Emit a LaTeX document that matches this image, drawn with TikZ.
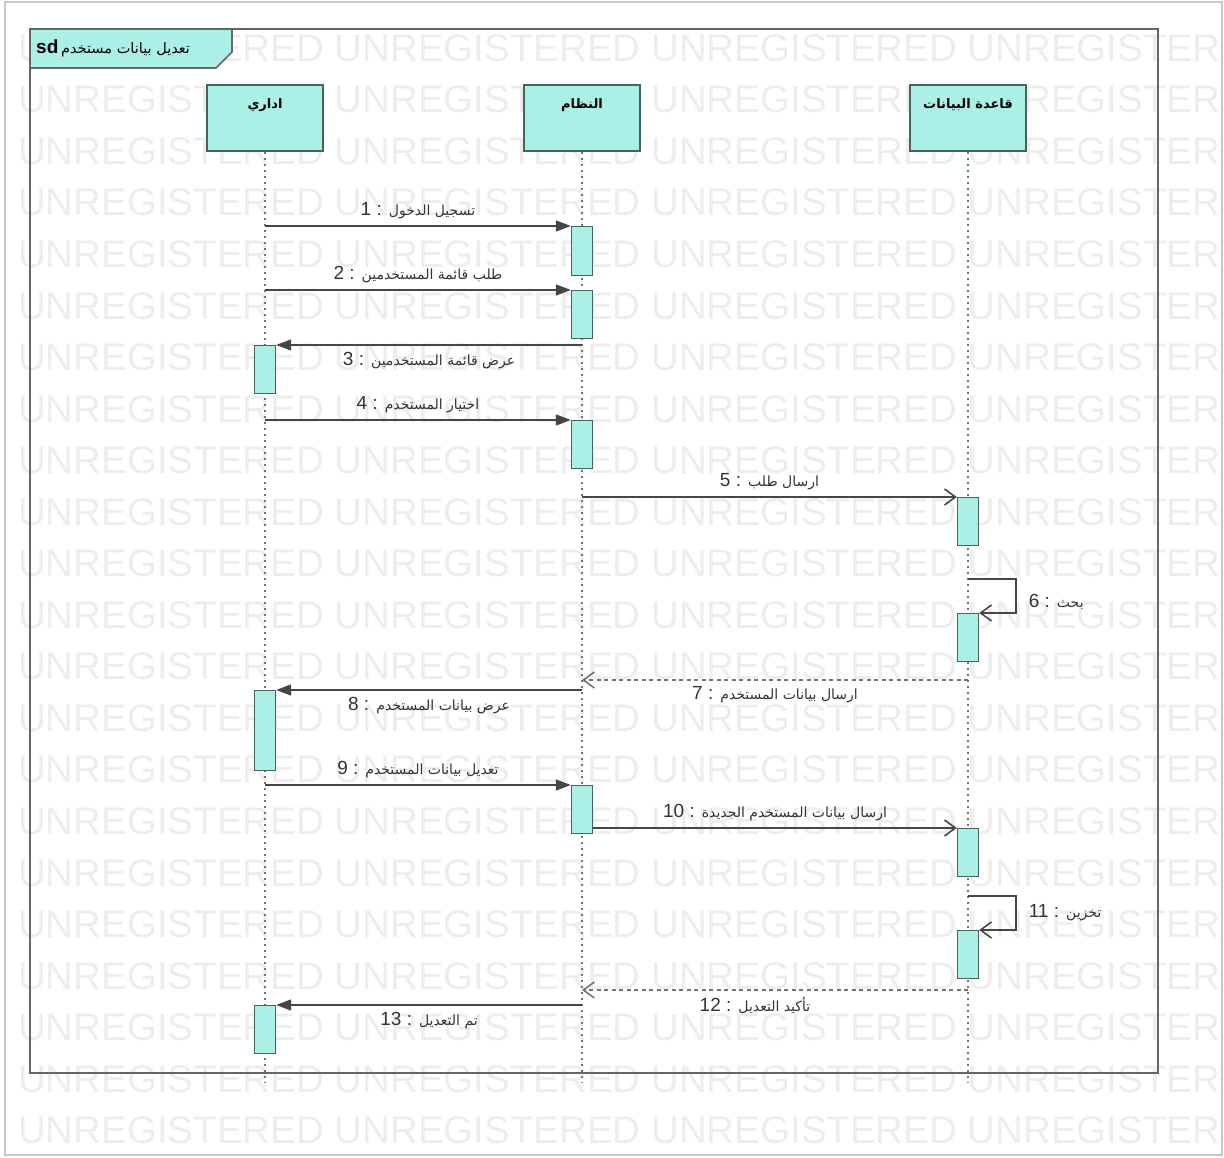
\documentclass[tikz,border=0pt]{standalone}
\usepackage{fontspec}
\setmainfont{Liberation Sans}
\newfontfamily\arabicfont[Script=Arabic]{DejaVu Sans}
\TeXXeTstate=1
\usetikzlibrary{arrows.meta,positioning}

\definecolor{umlfill}{RGB}{170,240,230}
\definecolor{umledge}{RGB}{70,100,95}
\definecolor{msgline}{RGB}{70,70,70}
\definecolor{wmark}{RGB}{239,236,236}

\newcommand{\artxt}[1]{{\arabicfont\beginR #1\endR}}
\newcommand{\msgtxt}[2]{#1 : {\arabicfont\fontsize{14}{16}\selectfont\beginR #2\endR}}

\begin{document}
\begin{tikzpicture}[
    x = 1pt, y = -1pt, % one unit per screenshot pixel
    every node/.style = {inner sep = 2pt},
    head/.style = {draw = umledge, line width = 1.6pt, fill = umlfill,
      minimum width = 116pt, text height = 18pt, text depth = 36pt,
      inner ysep = 6pt, font = \bfseries\fontsize{13}{15}\selectfont},
    act/.style = {draw = umledge, line width = 1.3pt, fill = umlfill,
      minimum width = 21pt, inner sep = 0pt, anchor = north},
    lifeline/.style = {draw = black!55, line width = 1.2pt, dash pattern = on 2pt off 4pt},
    sync/.style = {draw = msgline, line width = 1.6pt, -{Triangle[length=15pt,width=11pt]}},
    async/.style = {draw = msgline, line width = 1.6pt, -{Straight Barb[length=11pt,width=16pt]}},
    reply/.style = {async, draw = black!55, dash pattern = on 4pt off 3.5pt},
    lbl/.style = {font = \fontsize{19}{21}\selectfont, text = black!80}
    ]

    \tikzset{wmtext/.style = {text = wmark, inner sep = 0pt, anchor = west,
      font = \fontsize{38.5}{40}\selectfont}}

    \useasboundingbox (0,0) rectangle (1224,1158);

    % watermark
    \begin{scope}
      \clip (5,2) rectangle (1222,1155);
      \foreach \k in {0,...,21}
        \node[wmtext] (wm\k) at (18, {48+51.55*\k})
          {UNREGISTERED UNREGISTERED UNREGISTERED UNREGISTERED};
    \end{scope}
    \draw[black!22, line width = 1.5pt] (5,2) rectangle (1222,1155);

    % frame and its tab
    \draw[black!60, line width = 1.6pt] (30,29) rectangle (1158,1073);
    \draw[black!60, line width = 1.6pt, fill = umlfill]
      (30,29) -- (232,29) -- (232,52) -- (216,68) -- (30,68) -- cycle;
    \node[anchor = west] (title) at (34,48)
      {{\bfseries\fontsize{19}{21}\selectfont sd}
       {\fontsize{14.5}{16}\selectfont\artxt{تعديل بيانات مستخدم}}};

    % lifelines
    \node[head] (adm) at (265,118) {\artxt{اداري}};
    \node[head] (sys) at (582,118) {\artxt{النظام}};
    \node[head] (db)  at (968,118) {\artxt{قاعدة البيانات}};
    \coordinate (bot) at (0,1082);
    \foreach \l in {adm,sys,db}
      \draw[lifeline] (\l.south) -- (\l |- bot);

    % activations
    \node[act, minimum height = 49pt] (a1)  at (582,226)  {};
    \node[act, minimum height = 48pt] (a2)  at (582,290)  {};
    \node[act, minimum height = 48pt] (a3)  at (265,345)  {};
    \node[act, minimum height = 48pt] (a4)  at (582,420)  {};
    \node[act, minimum height = 48pt] (d5)  at (968,497)  {};
    \node[act, minimum height = 48pt] (d6)  at (968,613)  {};
    \node[act, minimum height = 80pt] (a8)  at (265,690)  {};
    \node[act, minimum height = 48pt] (a9)  at (582,785)  {};
    \node[act, minimum height = 48pt] (d10) at (968,828)  {};
    \node[act, minimum height = 48pt] (d11) at (968,930)  {};
    \node[act, minimum height = 48pt] (a13) at (265,1005) {};
    \coordinate (m7)  at (0,680);
    \coordinate (m12) at (0,990);

    % messages
    \draw[sync] (adm |- a1.north) -- (a1.north west)
      node[midway, above = 4pt, lbl] {\msgtxt{1}{تسجيل الدخول}};
    \draw[sync] (adm |- a2.north) -- (a2.north west)
      node[midway, above = 4pt, lbl] {\msgtxt{2}{طلب قائمة المستخدمين}};
    \draw[sync] (sys |- a3.north) -- (a3.north east)
      node[midway, below = 4pt, lbl] {\msgtxt{3}{عرض قائمة المستخدمين}};
    \draw[sync] (adm |- a4.north) -- (a4.north west)
      node[midway, above = 4pt, lbl] {\msgtxt{4}{اختيار المستخدم}};
    \draw[async] (sys |- d5.north) -- (d5.north west)
      node[midway, above = 4pt, lbl] {\msgtxt{5}{ارسال طلب}};
    \draw[async] (d6.north) ++(0,-34) -- ++(48,0) |- (d6.north east)
      node[pos = 0.25, right = 10pt, yshift = -6pt, lbl] {\msgtxt{6}{بحث}};
    \draw[reply] (db |- m7) -- (sys |- m7)
      node[midway, below = 4pt, lbl] {\msgtxt{7}{ارسال بيانات المستخدم}};
    \draw[sync] (sys |- a8.north) -- (a8.north east)
      node[midway, below = 4pt, lbl] {\msgtxt{8}{عرض بيانات المستخدم}};
    \draw[sync] (adm |- a9.north) -- (a9.north west)
      node[midway, above = 4pt, lbl] {\msgtxt{9}{تعديل بيانات المستخدم}};
    \draw[async] (a9.east |- d10.north) -- (d10.north west)
      node[midway, above = 4pt, lbl] {\msgtxt{10}{ارسال بيانات المستخدم الجديدة}};
    \draw[async] (d11.north) ++(0,-34) -- ++(48,0) |- (d11.north east)
      node[pos = 0.25, right = 10pt, lbl] {\msgtxt{11}{تخزين}};
    \draw[reply] (db |- m12) -- (sys |- m12)
      node[midway, below = 4pt, xshift = -20pt, lbl] {\msgtxt{12}{تأكيد التعديل}};
    \draw[sync] (sys |- a13.north) -- (a13.north east)
      node[midway, below = 4pt, lbl] {\msgtxt{13}{تم التعديل}};
\end{tikzpicture}
\end{document}
